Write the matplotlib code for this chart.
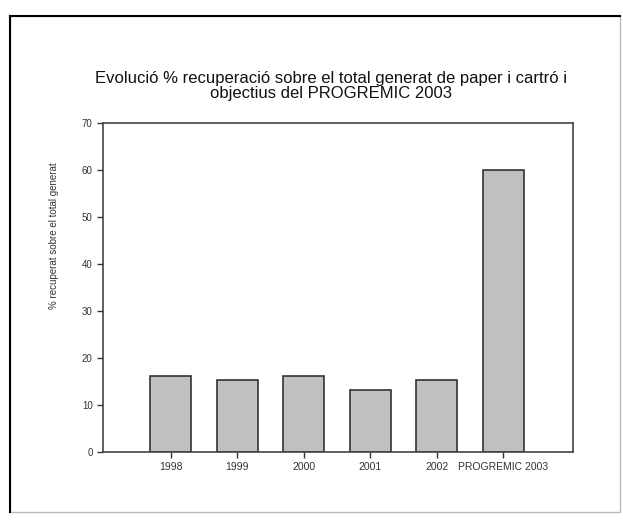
import matplotlib
matplotlib.use("Agg")
import matplotlib.pyplot as plt
from matplotlib import patches

categories = ["1998", "1999", "2000", "2001", "2002", "PROGREMIC 2003"]
values = [16.1, 15.3, 16.2, 13.1, 15.3, 60.0]
yticks = [0, 10, 20, 30, 40, 50, 60, 70]

plt.rcParams["font.family"] = ["Liberation Sans", "DejaVu Sans"]

fig = plt.figure(figsize=(6.23, 5.2), dpi=100)
ax = fig.add_axes([0.1653, 0.1308, 0.7544, 0.6327])

x = list(range(len(categories)))
ax.bar(x, values, width=0.62, color="#c0c0c0", edgecolor="#333333", linewidth=1.2)

ax.set_xlim(-1.02, 6.05)
ax.set_ylim(0, 70)
ax.set_yticks(yticks)
ax.set_xticks(x)
ax.set_xticklabels(categories)
ax.tick_params(axis="both", direction="out", length=4, width=1, labelsize=7, colors="#333333", labelcolor="#333333")
ax.tick_params(axis="x", pad=3, labelsize=7.5)
for s in ax.spines.values():
    s.set_color("#444444")
    s.set_linewidth(1.2)

ax.set_ylabel("% recuperat sobre el total generat", fontsize=7, color="#333333")
ax.yaxis.set_label_coords(-0.094, 0.656)

fig.text(0.532, 0.835, "Evolució % recuperació sobre el total generat de paper i cartró i\nobjectius del PROGREMIC 2003",
         ha="center", va="center", fontsize=12, linespacing=1.0, color="#111111")

# outer frame
border = patches.Rectangle((10 / 623, 1 - 512 / 520), 610 / 623, 496 / 520, transform=fig.transFigure,
                           fill=False, edgecolor="#bbbbbb", linewidth=1)
fig.patches.append(border)
fig.add_artist(plt.Line2D([10 / 623, 10 / 623], [1 - 512 / 520, 1 - 16 / 520], transform=fig.transFigure,
                          color="black", linewidth=1.5))
fig.add_artist(plt.Line2D([10 / 623, 620 / 623], [1 - 16 / 520, 1 - 16 / 520], transform=fig.transFigure,
                          color="black", linewidth=1.5))

fig.savefig("out.png", dpi=100)
